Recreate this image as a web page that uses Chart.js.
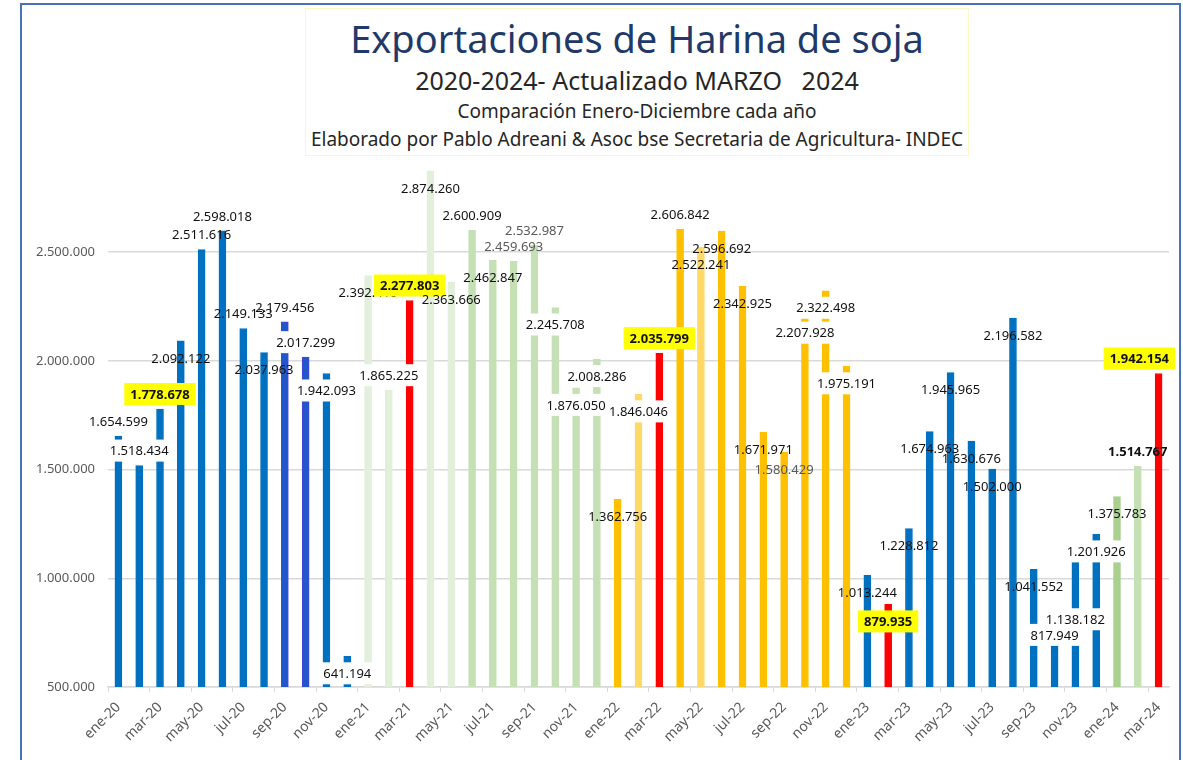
<!DOCTYPE html>
<html>
<head>
<meta charset="utf-8">
<script src="https://cdn.jsdelivr.net/npm/chart.js@4.4.1/dist/chart.umd.min.js"></script>
<style>
  body { margin: 0; background: #fff; font-family: 'Noto Sans', sans-serif; }
  #page { position: relative; width: 1183px; height: 760px; overflow: hidden; }
  #frame { position: absolute; left: 20px; top: 3px; width: 1157px; height: 800px; border: 2px solid #4a70b8; }
  #chart { position: absolute; left: 0; top: 0; }
  #titlebox { position: absolute; left: 305px; top: 8px; width: 662px; height: 146px; border: 1px solid #fbf8c4; background: #fff; z-index: 2; }
  .t { position: absolute; left: 0; width: 100%; text-align: center; white-space: pre; }
  #t1 { top: 8px; font-size: 38px; line-height: 42px; color: #1f3a68; }
  #t2 { top: 56px; font-size: 25px; line-height: 30px; color: #262626; }
  #t3 { top: 90px; font-size: 19px; line-height: 24px; color: #262626; }
  #t4 { top: 118px; font-size: 19px; line-height: 24px; color: #262626; }
</style>
</head>
<body>
<div id="page">
  <div id="frame"></div>
  <canvas id="chart" width="1183" height="760"></canvas>
  <div id="titlebox">
    <div class="t" id="t1">Exportaciones de Harina de soja</div>
    <div class="t" id="t2">2020-2024- Actualizado MARZO   2024</div>
    <div class="t" id="t3">Comparación Enero-Diciembre cada año</div>
    <div class="t" id="t4">Elaborado por Pablo Adreani &amp; Asoc bse Secretaria de Agricultura- INDEC</div>
  </div>
</div>
<script>
// months ene-20 .. mar-24
const months = [
  'ene-20','feb-20','mar-20','abr-20','may-20','jun-20','jul-20','ago-20','sep-20','oct-20','nov-20','dic-20',
  'ene-21','feb-21','mar-21','abr-21','may-21','jun-21','jul-21','ago-21','sep-21','oct-21','nov-21','dic-21',
  'ene-22','feb-22','mar-22','abr-22','may-22','jun-22','jul-22','ago-22','sep-22','oct-22','nov-22','dic-22',
  'ene-23','feb-23','mar-23','abr-23','may-23','jun-23','jul-23','ago-23','sep-23','oct-23','nov-23','dic-23',
  'ene-24','feb-24','mar-24'
];

// toneladas exportadas
const toneladas = [
  1654599, 1518434, 1778678, 2092122, 2511616, 2598018, 2149133, 2037963, 2179456, 2017299, 1942093, 641194,
  2392410, 1865225, 2277803, 2874260, 2363666, 2600909, 2462847, 2459693, 2532987, 2245708, 1876050, 2008286,
  1362756, 1846046, 2035799, 2606842, 2522241, 2596692, 2342925, 1671971, 1580429, 2207928, 2322498, 1975191,
  1013244, 879935, 1228812, 1674963, 1945965, 1630676, 1502000, 2196582, 1041552, 817949, 1138182, 1201926,
  1375783, 1514767, 1942154
];

const yTicks = [500000, 1000000, 1500000, 2000000, 2500000];

// bar colours, one per month
const BLUE = '#0070c0', RED = '#ff0000', VIOLET = '#2257cc';
const G1 = '#e2efda', G2 = '#c5e0b4', G3 = '#a9d08e';
const O1 = '#ffc000', O2 = '#ffd966';
const barColors = [
  BLUE, BLUE, BLUE, BLUE, BLUE, BLUE, BLUE, BLUE, VIOLET, VIOLET, BLUE, BLUE,
  G1, G1, RED, G1, G1, G2, G2, G2, G2, G2, G2, G2,
  O1, O2, RED, O1, O2, O1, O1, O1, O1, O1, O1, O1,
  BLUE, RED, BLUE, BLUE, BLUE, BLUE, BLUE, BLUE, BLUE, BLUE, BLUE, BLUE,
  G3, G2, RED
];

// label look: o = above bar, i = inside top, l = lower inside; w = white box, y = yellow box, g = grey text, k = bold
const labelStyle = [
  'o', 'ow', 'oy', 'i', 'o', 'o', 'o', 'i', 'o', 'ow', 'iw', 'iw',
  'i', 'ow', 'oy', 'i', 'i', 'o', 'i', 'og', 'og', 'iw', 'iw', 'iw',
  'i', 'iw', 'oy', 'o', 'i', 'i', 'i', 'i', 'ig', 'iw', 'iw', 'iw',
  'i', 'iy', 'i', 'i', 'i', 'i', 'i', 'i', 'i', 'iw', 'lw', 'iw',
  'i', 'ok', 'oy'
];

const fmt = v => String(v).replace(/\B(?=(\d{3})+(?!\d))/g, '.');

const barLabels = {
  id: 'barLabels',
  afterDatasetsDraw(chart) {
    const ctx = chart.ctx;
    const meta = chart.getDatasetMeta(0);
    const maxRight = chart.chartArea.right + 6;
    ctx.save();
    ctx.textAlign = 'center';
    ctx.textBaseline = 'middle';
    meta.data.forEach((bar, i) => {
      const st = labelStyle[i];
      const txt = fmt(toneladas[i]);
      const dy = st[0] === 'o' ? -15 : (st[0] === 'l' ? 71 : 17);
      const cy = bar.y + dy;
      const bold = st.includes('y') || st.includes('k');
      ctx.font = (bold ? 'bold ' : '') + '13px "Noto Sans"';
      const w = ctx.measureText(txt).width;
      const pad = st.includes('y') ? 6 : 2;
      // keep the label inside the chart
      const cx = Math.min(bar.x, maxRight - w / 2 - pad);
      if (st.includes('y')) {
        ctx.fillStyle = '#ffff00';
        ctx.fillRect(cx - w / 2 - pad, cy - 11, w + 2 * pad, 22);
      } else if (st.includes('w')) {
        ctx.fillStyle = '#ffffff';
        ctx.fillRect(cx - w / 2 - pad, cy - 11, w + 2 * pad, 22);
      }
      ctx.fillStyle = st.includes('g') ? '#595959' : '#111111';
      ctx.fillText(txt, cx, cy + 1);
    });
    ctx.restore();
  }
};

new Chart(document.getElementById('chart'), {
  type: 'bar',
  data: {
    labels: months,
    datasets: [{
      data: toneladas,
      backgroundColor: barColors,
      borderColor: barColors.map(c => c === VIOLET ? '#4a44d8' : c),
      borderWidth: 1,
      barThickness: 7
    }]
  },
  options: {
    responsive: false,
    animation: false,
    layout: { padding: { left: 21, right: 14, top: 143.5, bottom: 0 } },
    plugins: { legend: { display: false }, tooltip: { enabled: false } },
    scales: {
      x: {
        afterFit: s => { s.height = 73; },
        border: { color: '#d9d9d9', width: 1.5 },
        grid: {
          offset: true,
          drawOnChartArea: false,
          drawTicks: true,
          tickLength: 5,
          color: c => (c.index % 2 === 0 ? '#d9d9d9' : 'rgba(0,0,0,0)')
        },
        ticks: {
          autoSkip: false,
          maxRotation: 45,
          minRotation: 45,
          padding: 7,
          color: '#595959',
          font: { family: 'Noto Sans', size: 14 },
          callback: (v, i) => (i % 2 === 0 ? months[i] : '')
        }
      },
      y: {
        min: 500000,
        max: 3000000,
        afterFit: s => { s.width = 87; },
        afterBuildTicks: s => { s.ticks = yTicks.map(v => ({ value: v })); },
        border: { display: false },
        grid: { color: '#d9d9d9', lineWidth: 1.5, drawTicks: false },
        ticks: {
          padding: 13,
          color: '#595959',
          font: { family: 'Noto Sans', size: 13 },
          callback: v => fmt(v)
        }
      }
    }
  },
  plugins: [barLabels]
});
</script>
</body>
</html>
